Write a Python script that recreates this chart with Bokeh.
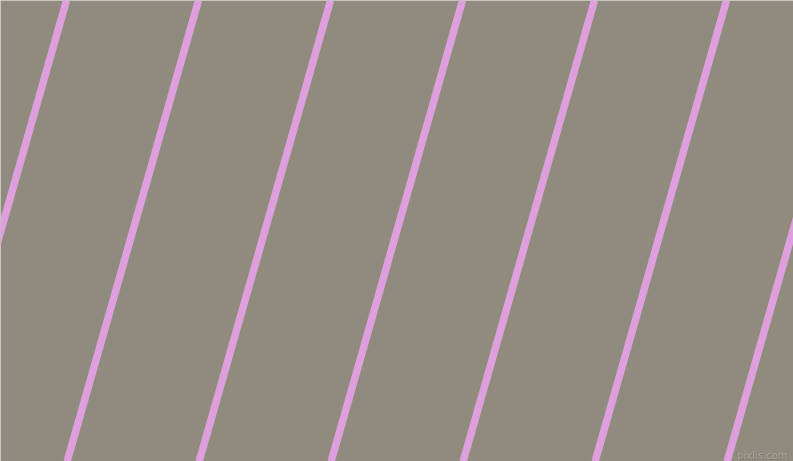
from bokeh.plotting import figure
from bokeh.models import Range1d, ColumnDataSource
from bokeh.core.properties import value
from bokeh.embed import file_html
from bokeh.resources import INLINE

# Pattern data (reference pixel space, y measured downward)
stripe_top_x = [66, 198, 330, 462, 594, 726, 858]   # x where each stripe meets the top edge
stripe_slope = 0.285                                 # horizontal drift per pixel downward
canvas_w = 793
canvas_h = 461
watermark = ["pixlis.com"]

bg_color = "#918a7e"
stripe_color = "#dda0dd"

x_top = list(stripe_top_x)
x_bot = [x - stripe_slope * canvas_h for x in stripe_top_x]
src = ColumnDataSource(dict(x0=x_top, y0=[0] * len(x_top), x1=x_bot, y1=[canvas_h] * len(x_top)))

p = figure(width=793, height=461, output_backend="svg", toolbar_location=None,
           x_range=Range1d(0, canvas_w), y_range=Range1d(canvas_h, 0),
           min_border=0, min_border_left=0, min_border_right=0,
           min_border_top=0, min_border_bottom=0)
p.axis.visible = False
p.grid.visible = False
p.outline_line_color = None
p.background_fill_color = bg_color
p.border_fill_color = bg_color

p.segment(x0="x0", y0="y0", x1="x1", y1="y1", source=src,
          line_color=stripe_color, line_width=7.5, line_cap="butt")

wsrc = ColumnDataSource(dict(x=[787], y=[455], t=watermark))
p.text(x="x", y="y", text="t", source=wsrc, x_offset=1, y_offset=1,
       text_color="#7f796e", text_font=value("DejaVu Sans"), text_font_size="10px",
       text_align="right", text_baseline="alphabetic")
p.text(x="x", y="y", text="t", source=wsrc,
       text_color="#aba499", text_font=value("DejaVu Sans"), text_font_size="10px",
       text_align="right", text_baseline="alphabetic")

open("out.html", "w").write(file_html(p, INLINE))
